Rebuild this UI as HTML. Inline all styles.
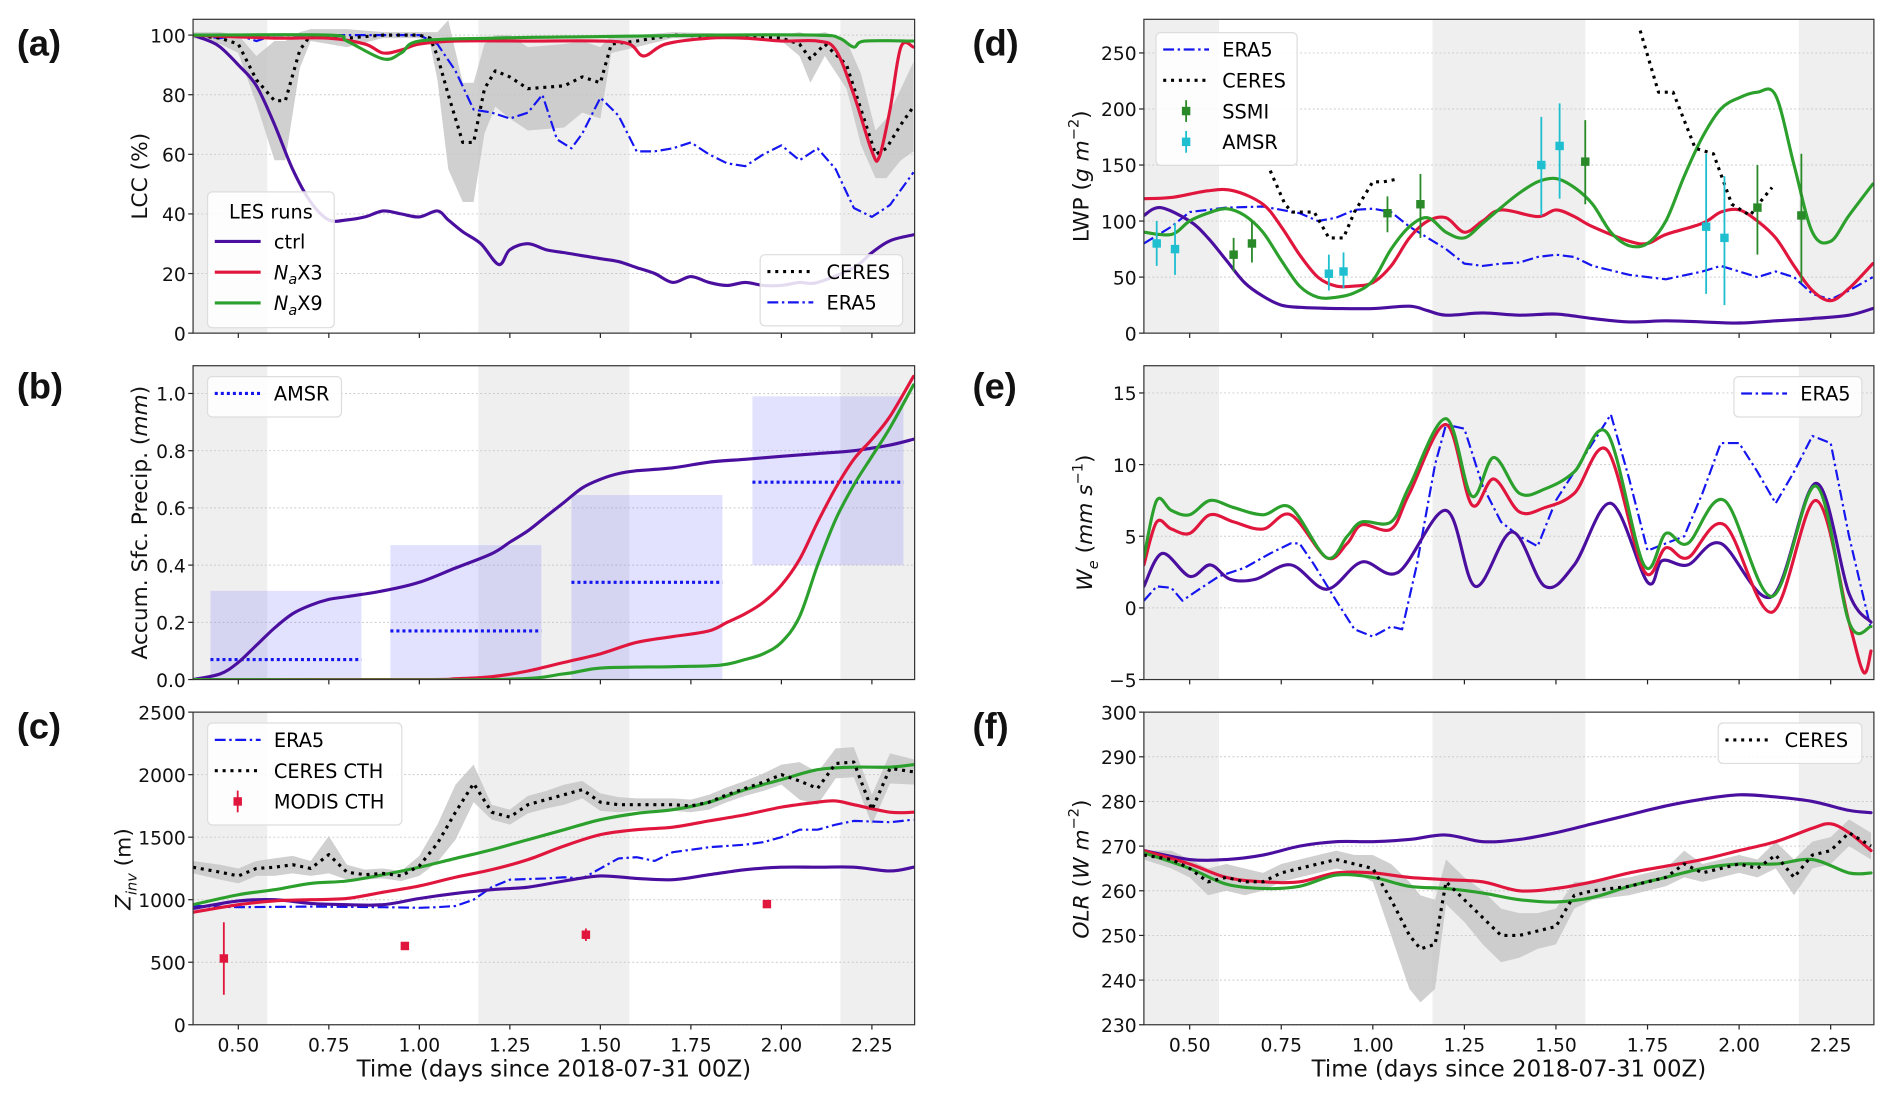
<!DOCTYPE html>
<html><head><meta charset="utf-8">
<style>
html,body{margin:0;padding:0;background:#fff;}
svg{display:block;font-family:"DejaVu Sans","Liberation Sans",sans-serif;}
</style></head>
<body>
<svg id="fig" width="1892" height="1102" viewBox="0 0 1568 913" preserveAspectRatio="none" xmlns="http://www.w3.org/2000/svg"></svg>
<script>
// ---------- DATA ----------
const xTicks=[0.5,0.75,1.0,1.25,1.5,1.75,2.0,2.25];
const xTickLabels=["0.50","0.75","1.00","1.25","1.50","1.75","2.00","2.25"];
const nightBands=[[0.375,0.58],[1.163,1.58],[2.163,2.37]];
// (a) LCC
const aCtrlT=[0.375,0.42,0.45,0.5,0.55,0.6,0.65,0.7,0.75,0.8,0.85,0.9,0.95,1.0,1.05,1.08,1.12,1.17,1.22,1.25,1.3,1.35,1.4,1.45,1.5,1.55,1.6,1.65,1.7,1.75,1.8,1.85,1.9,1.95,2.0,2.05,2.1,2.2,2.25,2.3,2.365];
const aCtrlV=[100,98,96,90,83,70,55,44,38,38,39,41,40,39,41,38,34,30,23,28,30,28,27,26,25,24,22,20,17,19,17,16,17,16,16,17,17,22,27,31,33];
const aX3T=[0.375,0.6,0.75,0.85,0.9,0.95,1.0,1.1,1.3,1.5,1.58,1.62,1.68,1.8,1.9,2.0,2.1,2.15,2.2,2.25,2.27,2.3,2.33,2.365];
const aX3V=[100,99,99,97,94,95,97,98,98,98,97,93,97,99,99,98,98,95,80,61,59,75,96,96];
const aX9T=[0.375,0.75,0.8,0.9,0.95,1.0,1.2,1.5,1.8,2.1,2.16,2.2,2.23,2.365];
const aX9V=[100,100,98,92,94,98,99,99.5,100,100,99,96,98,98];
const aCeresT=[0.375,0.45,0.5,0.55,0.6,0.63,0.67,0.7,0.8,0.9,1.0,1.03,1.05,1.08,1.12,1.15,1.18,1.21,1.25,1.3,1.4,1.45,1.5,1.53,1.6,1.7,2.0,2.05,2.08,2.12,2.18,2.22,2.26,2.29,2.33,2.365];
const aCeresV=[100,99,97,85,78,78,95,100,99,100,100,99,93,80,64,64,82,88,86,82,83,86,84,97,98,100,99,97,92,97,90,75,60,62,70,76];
const aCeresSpread=[1,2,3,8,20,20,6,2,3,1,1,2,8,25,20,20,15,12,14,14,14,12,12,3,2,1,1,4,8,4,8,12,8,10,12,15];
const aEraT=[0.375,0.45,0.5,0.55,0.6,0.7,0.9,1.0,1.05,1.1,1.15,1.2,1.25,1.3,1.34,1.38,1.42,1.45,1.5,1.55,1.6,1.65,1.7,1.75,1.8,1.85,1.9,1.95,2.0,2.05,2.1,2.15,2.2,2.25,2.3,2.365];
const aEraV=[100,99,100,98,100,100,100,100,97,88,75,74,72,74,80,65,62,67,79,73,61,61,62,64,60,57,56,60,63,58,62,55,42,39,43,54];
// (b) precip
const bCtrlT=[0.375,0.45,0.5,0.55,0.6,0.65,0.7,0.75,0.8,0.9,1.0,1.1,1.2,1.25,1.3,1.35,1.4,1.45,1.5,1.55,1.6,1.7,1.8,1.9,2.0,2.1,2.2,2.3,2.365];
const bCtrlV=[0,0.02,0.06,0.12,0.18,0.23,0.26,0.28,0.29,0.31,0.34,0.39,0.44,0.48,0.52,0.57,0.62,0.67,0.7,0.72,0.73,0.74,0.76,0.77,0.78,0.79,0.8,0.82,0.84];
const bX3T=[0.375,1.0,1.1,1.2,1.3,1.4,1.5,1.6,1.7,1.8,1.85,1.9,1.95,2.0,2.05,2.1,2.15,2.2,2.25,2.3,2.365];
const bX3V=[0,0,0.003,0.01,0.03,0.06,0.09,0.13,0.15,0.17,0.2,0.23,0.27,0.33,0.42,0.55,0.67,0.77,0.84,0.92,1.06];
const bX9T=[0.375,1.2,1.4,1.5,1.7,1.83,1.9,1.95,2.0,2.05,2.1,2.15,2.2,2.25,2.3,2.365];
const bX9V=[0,0,0.02,0.04,0.045,0.05,0.07,0.09,0.13,0.22,0.4,0.56,0.68,0.78,0.88,1.03];
const amsrStart=[0.423,0.92,1.42,1.92];
const amsrEnd=[0.84,1.337,1.837,2.337];
const amsrMean=[0.07,0.17,0.34,0.69];
const amsrLo=[0,0,0,0.4];
const amsrHi=[0.31,0.47,0.645,0.99];
// (c) Zinv
const cEraT=[0.375,0.5,0.7,0.9,1.0,1.05,1.1,1.15,1.2,1.25,1.35,1.4,1.45,1.5,1.55,1.6,1.65,1.7,1.75,1.8,1.9,1.95,2.0,2.05,2.1,2.15,2.2,2.3,2.365];
const cEraV=[950,940,945,940,935,940,950,1000,1100,1160,1170,1180,1170,1250,1330,1340,1310,1380,1400,1420,1440,1460,1500,1560,1560,1600,1630,1620,1640];
const cCeresT=[0.375,0.45,0.5,0.55,0.6,0.65,0.7,0.75,0.8,0.85,0.9,0.95,1.0,1.05,1.1,1.15,1.2,1.25,1.3,1.35,1.4,1.45,1.5,1.55,1.6,1.7,1.75,1.8,1.85,1.9,1.95,2.0,2.05,2.1,2.15,2.2,2.25,2.3,2.37];
const cCeresV=[1260,1220,1190,1250,1260,1280,1250,1360,1220,1200,1210,1190,1270,1450,1700,1930,1700,1660,1760,1800,1840,1880,1780,1760,1760,1760,1750,1780,1840,1890,1940,2000,1950,1890,2090,2100,1720,2050,2020];
const cCeresSpread=[50,60,60,60,70,70,60,150,60,40,40,40,80,150,220,150,60,60,70,70,80,70,70,60,50,50,50,60,60,60,70,80,150,130,120,120,120,120,100];
const cX9T=[0.375,0.5,0.6,0.7,0.8,0.9,1.0,1.1,1.2,1.3,1.4,1.5,1.6,1.7,1.8,1.9,2.0,2.1,2.2,2.3,2.365];
const cX9V=[960,1040,1080,1130,1150,1200,1260,1330,1400,1480,1560,1640,1690,1720,1780,1880,1960,2040,2060,2060,2080];
const cX3T=[0.375,0.5,0.6,0.7,0.8,0.9,1.0,1.1,1.2,1.3,1.4,1.5,1.6,1.7,1.8,1.9,2.0,2.1,2.15,2.2,2.3,2.365];
const cX3V=[900,960,990,1000,1010,1060,1110,1180,1240,1320,1430,1520,1560,1580,1630,1680,1740,1780,1790,1760,1700,1700];
const cCtrlT=[0.375,0.5,0.6,0.7,0.8,0.9,1.0,1.1,1.2,1.3,1.4,1.5,1.6,1.7,1.8,1.9,2.0,2.1,2.2,2.3,2.365];
const cCtrlV=[930,990,1000,970,960,960,1010,1050,1080,1100,1150,1190,1170,1160,1200,1240,1260,1260,1260,1230,1260];
const modisT=[0.46,0.96,1.46,1.96];
const modisV=[530,630,720,965];
const modisErr=[290,30,50,20];
// (d) LWP
const dCtrlT=[0.375,0.42,0.5,0.55,0.6,0.65,0.7,0.75,0.8,0.9,1.0,1.1,1.15,1.2,1.3,1.4,1.5,1.6,1.7,1.8,1.9,2.0,2.1,2.2,2.3,2.365];
const dCtrlV=[105,112,100,85,65,45,33,25,23,22,22,24,20,16,18,16,17,13,10,11,10,9,11,13,16,22];
const dX3T=[0.375,0.45,0.55,0.62,0.7,0.75,0.8,0.85,0.9,0.95,1.0,1.05,1.1,1.15,1.2,1.25,1.3,1.35,1.45,1.5,1.55,1.6,1.7,1.75,1.8,1.9,1.95,2.0,2.05,2.1,2.15,2.2,2.25,2.3,2.365];
const dX3V=[120,121,127,127,115,95,70,50,42,42,45,60,85,100,103,90,100,110,104,110,104,95,82,80,88,98,108,110,100,85,60,38,29,40,62];
const dX9T=[0.375,0.45,0.5,0.55,0.6,0.65,0.7,0.75,0.8,0.85,0.9,0.95,1.0,1.05,1.1,1.15,1.2,1.25,1.3,1.35,1.4,1.45,1.5,1.55,1.6,1.65,1.7,1.75,1.8,1.85,1.9,1.95,2.0,2.05,2.1,2.15,2.2,2.25,2.3,2.365];
const dX9V=[90,88,100,107,111,105,90,65,42,32,32,36,47,75,95,103,90,85,98,112,125,135,138,130,115,90,78,80,100,140,175,200,210,215,212,150,90,82,105,133];
const dEraT=[0.375,0.45,0.5,0.6,0.7,0.8,0.85,0.9,0.95,1.0,1.05,1.1,1.15,1.2,1.25,1.3,1.35,1.4,1.45,1.5,1.55,1.6,1.7,1.8,1.9,1.95,2.0,2.05,2.1,2.15,2.2,2.25,2.3,2.365];
const dEraV=[80,95,108,112,113,107,100,103,110,111,108,95,85,75,62,60,62,63,68,70,68,60,52,48,55,60,55,50,55,50,35,30,38,50];
const dCeres1T=[0.72,0.76,0.78,0.84,0.88,0.92,0.95,1.0,1.03,1.06];
const dCeres1V=[145,115,108,108,85,85,108,135,135,137];
const dCeres2T=[1.73,1.78,1.82,1.88,1.93,1.98,2.03,2.06,2.09];
const dCeres2V=[270,215,215,165,160,115,105,118,130];
const ssmiT=[0.62,0.67,1.04,1.13,1.58,2.05,2.17];
const ssmiV=[70,80,107,115,153,112,105];
const ssmiLo=[55,63,90,85,115,70,45];
const ssmiHi=[85,100,122,142,190,150,160];
const amsrLwpT=[0.41,0.46,0.88,0.92,1.46,1.51,1.91,1.96];
const amsrLwpV=[80,75,53,55,150,167,95,85];
const amsrLwpLo=[60,52,38,40,105,120,35,25];
const amsrLwpHi=[100,98,70,72,193,205,160,140];
// (e) We
const eCtrlT=[0.375,0.425,0.5,0.556,0.61,0.68,0.776,0.874,0.97,1.07,1.2,1.28,1.38,1.47,1.55,1.65,1.75,1.79,1.86,1.95,2.09,2.21,2.3,2.36];
const eCtrlV=[1.5,3.8,2.2,3.0,2.0,2.0,3.0,1.3,3.2,2.5,6.8,1.5,5.3,1.5,3,7.3,1.8,3.3,3.0,4.5,0.8,8.7,1,-1];
const eX3T=[0.375,0.41,0.45,0.5,0.556,0.62,0.7,0.776,0.874,0.93,0.97,1.05,1.1,1.2,1.27,1.33,1.4,1.47,1.55,1.64,1.74,1.8,1.86,1.96,2.09,2.21,2.3,2.34,2.36];
const eX3V=[3,6,5.5,5.2,6.5,6,5.5,6.5,3.5,4.5,5.8,5.5,8,12.8,7.2,9,6.7,7,8,11,2.6,4.2,3.5,5.8,-0.3,7.5,-1,-4.5,-3];
const eX9T=[0.375,0.41,0.45,0.5,0.556,0.62,0.7,0.776,0.874,0.93,0.97,1.05,1.1,1.2,1.27,1.33,1.4,1.47,1.55,1.64,1.74,1.8,1.86,1.96,2.09,2.21,2.3,2.36];
const eX9V=[3.5,7.5,6.8,6.5,7.5,7,6.5,7,3.5,5,6,6,8.5,13.2,7.8,10.5,8,8.3,9.5,12.2,3,5.2,4.5,7.5,0.8,8.5,-1,-1.3];
const eEraT=[0.375,0.41,0.45,0.48,0.52,0.58,0.65,0.72,0.776,0.8,0.84,0.9,0.95,1.0,1.05,1.08,1.12,1.17,1.2,1.25,1.3,1.35,1.4,1.45,1.5,1.55,1.6,1.65,1.7,1.75,1.8,1.85,1.9,1.95,2.0,2.05,2.1,2.15,2.2,2.25,2.3,2.36];
const eEraV=[0.5,1.5,1.4,0.5,1.2,2.2,2.8,3.8,4.5,4.5,3,0.5,-1.5,-2.0,-1.3,-1.5,3,10,12.8,12.5,8.5,6,5,4.3,7.5,9.5,11.5,13.5,9,4,4.5,5,8,11.5,11.5,9.5,7.3,9.5,12,11.5,5,-1.5];
// (f) OLR
const fCtrlT=[0.375,0.5,0.6,0.7,0.8,0.9,1.0,1.1,1.2,1.3,1.4,1.5,1.6,1.7,1.8,1.9,2.0,2.1,2.2,2.3,2.36];
const fCtrlV=[269,267,267,268,270,271,271,271.5,272.5,271,271.5,273,275,277,279,280.5,281.5,281,280,278,277.5];
const fX3T=[0.375,0.5,0.6,0.7,0.8,0.9,1.0,1.1,1.2,1.3,1.4,1.5,1.6,1.7,1.8,1.9,2.0,2.1,2.2,2.25,2.3,2.36];
const fX3V=[269,266,263,262,262,264,264,263,262.5,262,260,260.5,262,264,265.5,267,269,271,274,275,273,269];
const fX9T=[0.375,0.5,0.6,0.7,0.8,0.9,1.0,1.1,1.2,1.3,1.4,1.5,1.6,1.7,1.8,1.9,2.0,2.1,2.2,2.3,2.36];
const fX9V=[268.5,265,261.5,260.5,261,263.5,263,261,260.5,259.5,258,257.5,258.5,261,263,265,266,266,267,264,264];
const fCeresT=[0.375,0.45,0.5,0.55,0.6,0.65,0.7,0.75,0.8,0.9,0.95,1.0,1.05,1.1,1.13,1.17,1.2,1.25,1.3,1.35,1.4,1.45,1.5,1.55,1.6,1.7,1.8,1.85,1.9,2.0,2.05,2.1,2.15,2.2,2.25,2.3,2.36];
const fCeresV=[268,267,265,262,263,262,262,264,265,267,266,265,258,250,247,248,262,258,254,250,250,251,252,259,260,261,263,266,264,266,265,268,263,268,269,273,270];
const fCeresSpread=[1,2,2,3,3,3,2,2,2,2,2,3,8,12,12,10,5,5,6,6,5,4,4,3,2,2,2,3,2,2,2,3,4,3,3,3,3];

// ---------- RENDERING ----------
const NS="http://www.w3.org/2000/svg";
const svg=document.getElementById('fig');
function mk(tag,attrs,parent){const e=document.createElementNS(NS,tag);for(const k in attrs)e.setAttribute(k,attrs[k]);(parent||svg).appendChild(e);return e;}
const C={ctrl:"#4b0fa0",x3:"#e0163d",x9:"#2ca02c",era:"#1515f0",ceres:"#000",ssmi:"#2a8a2a",amsr:"#1fbfd0"};
const XMIN=0.375,XMAX=2.368;

function panel(name,x0,x1,y0,y1,ymin,ymax,yTicks,yLabels,showX){
  const g=mk('g',{});
  
  
  const xs=t=>x0+(t-XMIN)/(XMAX-XMIN)*(x1-x0);
  const ys=v=>y1-(v-ymin)/(ymax-ymin)*(y1-y0);
  const clip='clip-'+name;
  const cp=mk('clipPath',{id:clip},g);mk('rect',{x:x0,y:y0,width:x1-x0,height:y1-y0},cp);
  nightBands.forEach(b=>{const r=mk('rect',{x:xs(b[0]),y:y0,width:Math.min(xs(b[1]),x1)-xs(b[0]),height:y1-y0,fill:"#efefef"},g);
    });
  yTicks.forEach((v,i)=>{
    const gl=mk('line',{x1:x0,x2:x1,y1:ys(v),y2:ys(v),stroke:"#c8c8c8","stroke-width":0.8,"stroke-dasharray":"1.5,2"},g);
    
    mk('line',{x1:x0-4,x2:x0,y1:ys(v),y2:ys(v),stroke:"#222","stroke-width":1},g);
    const tl=mk('text',{x:x0-6,y:ys(v)+6,"text-anchor":"end","font-size":15.5,fill:"#111"},g);tl.textContent=yLabels[i];
    
  });
  xTicks.forEach((t,i)=>{
    mk('line',{x1:xs(t),x2:xs(t),y1:y1,y2:y1+4,stroke:"#222","stroke-width":1},g);
    if(showX){const tl=mk('text',{x:xs(t),y:y1+22,"text-anchor":"middle","font-size":15.5,fill:"#111"},g);tl.textContent=xTickLabels[i];
      }
  });
  const plot=mk('g',{"clip-path":`url(#${clip})`},g);
  const fr=mk('rect',{x:x0,y:y0,width:x1-x0,height:y1-y0,fill:"none",stroke:"#333","stroke-width":1},g);
  
  if(showX){const xl=mk('text',{x:(x0+x1)/2,y:y1+43,"text-anchor":"middle","font-size":19,fill:"#111"},g);
    xl.textContent="Time (days since 2018-07-31 00Z)";}
  return {g,plot,xs,ys,x0,x1,y0,y1};
}
function pathD(P,T,V,smooth){
  const pts=T.map((t,i)=>[P.xs(t),P.ys(V[i])]);
  if(!smooth)return pts.map((p,i)=>(i?'L':'M')+p[0].toFixed(1)+','+p[1].toFixed(1)).join('');
  let d='M'+pts[0][0].toFixed(1)+','+pts[0][1].toFixed(1);
  for(let i=0;i<pts.length-1;i++){
    const p0=pts[Math.max(0,i-1)],p1=pts[i],p2=pts[i+1],p3=pts[Math.min(pts.length-1,i+2)];
    const c1=[p1[0]+(p2[0]-p0[0])/6,p1[1]+(p2[1]-p0[1])/6];
    const c2=[p2[0]-(p3[0]-p1[0])/6,p2[1]-(p3[1]-p1[1])/6];
    d+='C'+c1.map(v=>v.toFixed(1)).join(',')+' '+c2.map(v=>v.toFixed(1)).join(',')+' '+p2[0].toFixed(1)+','+p2[1].toFixed(1);
  }
  return d;
}
function line(P,T,V,col,sname,dash,w,smooth){
  const d=pathD(P,T,V,smooth);
  const a={d,fill:"none",stroke:col,"stroke-width":w||2.6,"stroke-linejoin":"round","stroke-linecap":dash?"butt":"round"};
  if(dash)a["stroke-dasharray"]=dash;
  const p=mk('path',a,P.plot);
  
  
  return p;
}
function les(P,T,V,col,sname){return line(P,T,V,col,sname,null,2.6,true);}
function band(P,T,V,S,sname){
  const up=T.map((t,i)=>P.xs(t).toFixed(1)+','+P.ys(V[i]+S[i]).toFixed(1));
  const dn=T.map((t,i)=>P.xs(t).toFixed(1)+','+P.ys(V[i]-S[i]).toFixed(1)).reverse();
  const p=mk('path',{d:'M'+up.concat(dn).join('L')+'Z',fill:"#c4c4c4","fill-opacity":0.8},P.plot);
  
  
}
function errpts(P,T,V,Lo,Hi,col,sname){
  T.forEach((t,i)=>{
    const g=mk('g',{},P.plot);
    
    
    mk('line',{x1:P.xs(t),x2:P.xs(t),y1:P.ys(Lo[i]),y2:P.ys(Hi[i]),stroke:col,"stroke-width":1.5},g);
    mk('rect',{x:P.xs(t)-3.5,y:P.ys(V[i])-3.5,width:7,height:7,fill:col},g);
  });
}
const ERA_DASH="9,3,2,3",DOT="2.5,4";
function legend(name,x,y,w,entries,title){
  const g=mk('g',{});
  
  
  const h=(title?28:0)+entries.length*25.5+8;
  mk('rect',{x,y,width:w,height:h,rx:4,fill:"#fff","fill-opacity":0.85,stroke:"#ddd"},g);
  let yy=y+(title?27:0)+17;
  if(title){const t=mk('text',{x:x+w/2,y:y+22,"text-anchor":"middle","font-size":16},g);t.textContent=title;}
  entries.forEach(e=>{
    const eg=mk('g',{},g);
    
    
    if(e.type==='pt'){mk('line',{x1:x+25,x2:x+25,y1:yy-12,y2:yy+6,stroke:e.col,"stroke-width":1.5},eg);mk('rect',{x:x+21.5,y:yy-6.5,width:7,height:7,fill:e.col},eg);}
    else{const a={x1:x+6,x2:x+44,y1:yy-3,y2:yy-3,stroke:e.col,"stroke-width":e.w||2.6};if(e.dash)a["stroke-dasharray"]=e.dash;mk('line',a,eg);}
    const t=mk('text',{x:x+55,y:yy+3,"font-size":16},eg);t.innerHTML=e.label;
    yy+=25.5;
  });
}
function ylabel(x,cy,html,name){
  const t=mk('text',{x:0,y:0,transform:`translate(${x},${cy}) rotate(-90)`,"text-anchor":"middle","font-size":18,fill:"#111"});
  t.innerHTML=html;
  
  
}
function letter(x,y,s){const t=mk('text',{x,y,"font-size":30,"font-weight":"bold",fill:"#111","font-family":"Liberation Sans, sans-serif"});t.textContent=s;
  }

// Panel a
const A=panel('panel-a-lcc',160,758,16,276,0,105.3,[0,20,40,60,80,100],["0","20","40","60","80","100"],false);
band(A,aCeresT,aCeresV,aCeresSpread,'ceres-lcc-range');
line(A,aEraT,aEraV,C.era,'era5-lcc-line',ERA_DASH,1.8);
line(A,aCeresT,aCeresV,C.ceres,'ceres-lcc-line',DOT,2.6);
les(A,aCtrlT,aCtrlV,C.ctrl,'ctrl-lcc-line');
les(A,aX3T,aX3V,C.x3,'nax3-lcc-line');
les(A,aX9T,aX9V,C.x9,'nax9-lcc-line');
legend('les-runs-legend',172,159,105,[{col:C.ctrl,label:'ctrl'},{col:C.x3,label:'<tspan font-style="italic">N</tspan><tspan font-style="italic" font-size="12" dy="4">a</tspan><tspan dy="-4">X3</tspan>'},{col:C.x9,label:'<tspan font-style="italic">N</tspan><tspan font-style="italic" font-size="12" dy="4">a</tspan><tspan dy="-4">X9</tspan>'}],'LES runs');
legend('obs-legend-a',630,211,118,[{col:C.ceres,label:'CERES',dash:DOT},{col:C.era,label:'ERA5',dash:ERA_DASH,w:1.8}]);
ylabel(122,146,'LCC (%)','y-axis-title-lcc');
letter(14,46,'(a)');

// Panel b
const B=panel('panel-b-precip',160,758,303,563,0,1.097,[0,0.2,0.4,0.6,0.8,1.0],["0.0","0.2","0.4","0.6","0.8","1.0"],false);
amsrStart.forEach((s,i)=>{
  const r=mk('rect',{x:B.xs(s),y:B.ys(amsrHi[i]),width:B.xs(amsrEnd[i])-B.xs(s),height:B.ys(amsrLo[i])-B.ys(amsrHi[i]),fill:"#7070ff","fill-opacity":0.2},B.plot);
  
  
  const l=mk('line',{x1:B.xs(s),x2:B.xs(amsrEnd[i]),y1:B.ys(amsrMean[i]),y2:B.ys(amsrMean[i]),stroke:"#1515f0","stroke-width":2.6,"stroke-dasharray":"2.5,2.5"},B.plot);
  
  
});
les(B,bCtrlT,bCtrlV,C.ctrl,'ctrl-precip-line');
les(B,bX3T,bX3V,C.x3,'nax3-precip-line');
les(B,bX9T,bX9V,C.x9,'nax9-precip-line');
legend('amsr-legend',172,312,111,[{col:"#1515f0",label:'AMSR',dash:"2.5,2.5"}]);
ylabel(122,433,'Accum. Sfc. Precip. (<tspan font-style="italic">mm</tspan>)','y-axis-title-precip');
letter(14,330,'(b)');

// Panel c
const Cp=panel('panel-c-zinv',160,758,590,849,0,2500,[0,500,1000,1500,2000,2500],["0","500","1000","1500","2000","2500"],true);
band(Cp,cCeresT,cCeresV,cCeresSpread,'ceres-cth-range');
line(Cp,cEraT,cEraV,C.era,'era5-zinv-line',ERA_DASH,1.8);
les(Cp,cCtrlT,cCtrlV,C.ctrl,'ctrl-zinv-line');
les(Cp,cX3T,cX3V,C.x3,'nax3-zinv-line');
les(Cp,cX9T,cX9V,C.x9,'nax9-zinv-line');
line(Cp,cCeresT,cCeresV,C.ceres,'ceres-cth-line',DOT,2.6);
errpts(Cp,modisT,modisV,modisV.map((v,i)=>v-modisErr[i]),modisV.map((v,i)=>v+modisErr[i]),"#e0163d",'modis-cth-point');
legend('legend-c',172,599,161,[{col:C.era,label:'ERA5',dash:ERA_DASH,w:1.8},{col:C.ceres,label:'CERES CTH',dash:DOT},{col:"#e0163d",label:'MODIS CTH',type:'pt'}]);
ylabel(108,720,'<tspan font-style="italic">Z</tspan><tspan font-style="italic" font-size="12" dy="5">inv</tspan><tspan dy="-5"> (m)</tspan>','y-axis-title-zinv');
letter(14,612,'(c)');

// Panel d
const D=panel('panel-d-lwp',948,1553,16,276,0,280,[0,50,100,150,200,250],["0","50","100","150","200","250"],false);
line(D,dEraT,dEraV,C.era,'era5-lwp-line',ERA_DASH,1.8);
les(D,dCtrlT,dCtrlV,C.ctrl,'ctrl-lwp-line');
les(D,dX3T,dX3V,C.x3,'nax3-lwp-line');
les(D,dX9T,dX9V,C.x9,'nax9-lwp-line');
line(D,dCeres1T,dCeres1V,C.ceres,'ceres-lwp-line',DOT,2.6);
line(D,dCeres2T,dCeres2V,C.ceres,'ceres-lwp-line-2',DOT,2.6);
errpts(D,ssmiT,ssmiV,ssmiLo,ssmiHi,C.ssmi,'ssmi-point');
errpts(D,amsrLwpT,amsrLwpV,amsrLwpLo,amsrLwpHi,C.amsr,'amsr-lwp-point');
legend('legend-d',958,27,117,[{col:C.era,label:'ERA5',dash:ERA_DASH,w:1.8},{col:C.ceres,label:'CERES',dash:DOT},{col:C.ssmi,label:'SSMI',type:'pt'},{col:C.amsr,label:'AMSR',type:'pt'}]);
ylabel(902,146,'LWP (<tspan font-style="italic">g m</tspan><tspan font-size="12" dy="-8">−2</tspan><tspan dy="8">)</tspan>','y-axis-title-lwp');
letter(806,46,'(d)');

// Panel e
const E=panel('panel-e-we',948,1553,303,563,-5,16.9,[-5,0,5,10,15],["−5","0","5","10","15"],false);
line(E,eEraT,eEraV,C.era,'era5-we-line',ERA_DASH,1.8);
les(E,eCtrlT,eCtrlV,C.ctrl,'ctrl-we-line');
les(E,eX3T,eX3V,C.x3,'nax3-we-line');
les(E,eX9T,eX9V,C.x9,'nax9-we-line');
legend('legend-e',1437,312,106,[{col:C.era,label:'ERA5',dash:ERA_DASH,w:1.8}]);
ylabel(905,433,'<tspan font-style="italic">W</tspan><tspan font-style="italic" font-size="12" dy="5">e</tspan><tspan dy="-5"> (</tspan><tspan font-style="italic">mm s</tspan><tspan font-size="12" dy="-8">−1</tspan><tspan dy="8">)</tspan>','y-axis-title-we');
letter(806,330,'(e)');

// Panel f
const F=panel('panel-f-olr',948,1553,590,849,230,300,[230,240,250,260,270,280,290,300],["230","240","250","260","270","280","290","300"],true);
band(F,fCeresT,fCeresV,fCeresSpread,'ceres-olr-range');
les(F,fCtrlT,fCtrlV,C.ctrl,'ctrl-olr-line');
les(F,fX3T,fX3V,C.x3,'nax3-olr-line');
les(F,fX9T,fX9V,C.x9,'nax9-olr-line');
line(F,fCeresT,fCeresV,C.ceres,'ceres-olr-line',DOT,2.6);
legend('legend-f',1424,599,119,[{col:C.ceres,label:'CERES',dash:DOT}]);
ylabel(902,720,'<tspan font-style="italic">OLR</tspan> (<tspan font-style="italic">W m</tspan><tspan font-size="12" dy="-8">−2</tspan><tspan dy="8">)</tspan>','y-axis-title-olr');
letter(806,612,'(f)');
</script>
</body></html>
